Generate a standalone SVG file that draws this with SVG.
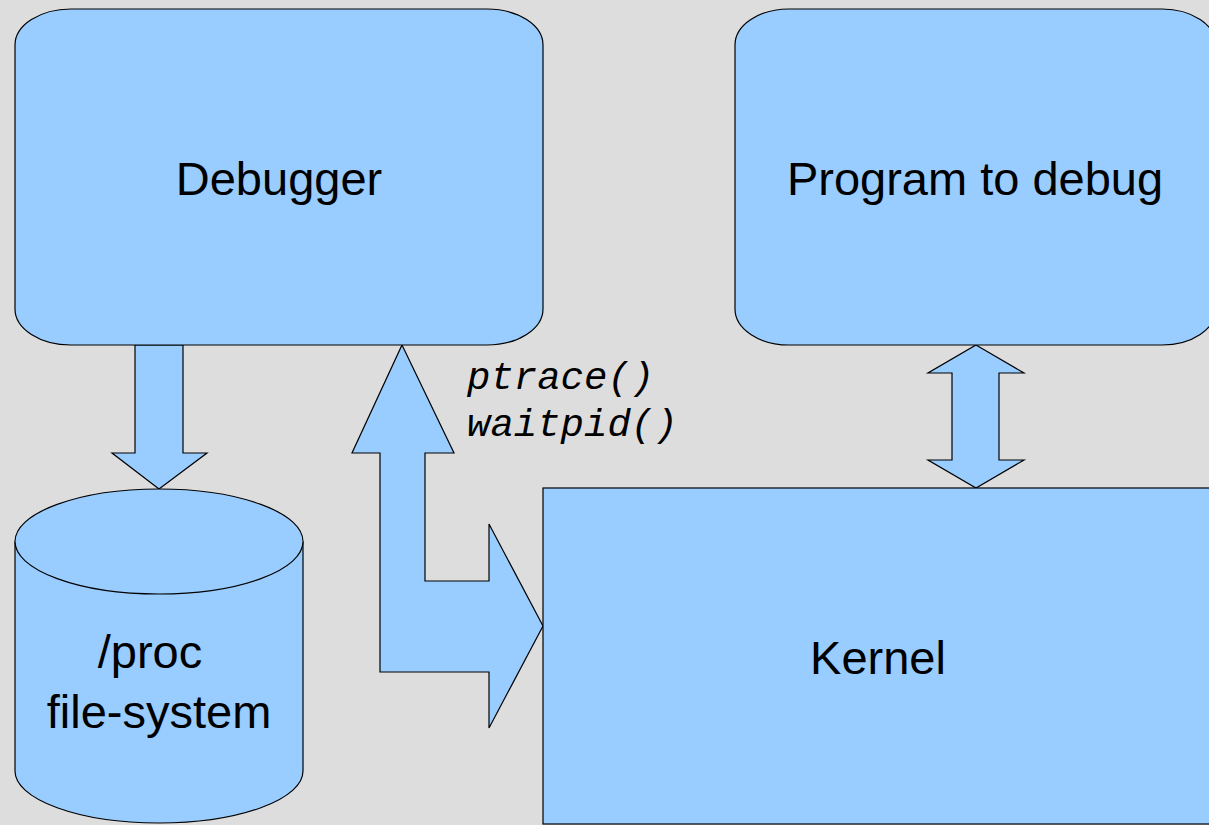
<svg xmlns="http://www.w3.org/2000/svg" width="1209" height="825" viewBox="0 0 1209 825">
  <style>
    .shape { fill: #99ccff; stroke: #000000; stroke-width: 1.2; stroke-linejoin: miter; }
    .label { font-family: "Liberation Sans", Arial, sans-serif; font-size: 47px; fill: #000000; text-anchor: middle; }
    .code { font-family: "Liberation Mono", "Courier New", monospace; font-style: italic; font-size: 39px; fill: #000000; }
  </style>
  <rect x="0" y="0" width="1209" height="825" fill="#dddddd"/>

  <g id="connectors">
    <!-- Debugger to /proc -->
    <polygon class="shape" points="135,345 183,345 183,453 207,453 159,489 112,453 135,453"/>
    <!-- Debugger <-> Kernel (bent double arrow) -->
    <polygon class="shape" points="402,345 454,453 425,453 425,581 489,581 489,524 543,626 489,728 489,672 380,672 380,453 352,453"/>
    <!-- Program <-> Kernel -->
    <polygon class="shape" points="976,345 1024,373 999,373 999,460 1024,460 976,488 928,460 952,460 952,373 928,373"/>
    <text class="code" x="467" y="389">ptrace()</text>
    <text class="code" x="467" y="436">waitpid()</text>
  </g>

  <g id="debugger">
    <rect class="shape" x="15" y="9" width="528" height="336" rx="56" ry="36"/>
    <text class="label" x="279" y="195">Debugger</text>
  </g>

  <g id="program">
    <rect class="shape" x="735" y="9" width="481" height="336" rx="54" ry="36"/>
    <text class="label" x="975" y="195">Program to debug</text>
  </g>

  <g id="kernel">
    <rect class="shape" x="543" y="488" width="670" height="336"/>
    <text class="label" x="878" y="674">Kernel</text>
  </g>

  <g id="procfs">
    <path class="shape" d="M15,541.5 A144,52.5 0 0 1 303,541.5 L303,771 A144,52 0 0 1 15,771 Z"/>
    <path class="shape" fill="none" d="M15,541.5 A144,52.5 0 0 0 303,541.5"/>
    <text class="label" x="150" y="668">/proc</text>
    <text class="label" x="159" y="728">file-system</text>
  </g>
</svg>
